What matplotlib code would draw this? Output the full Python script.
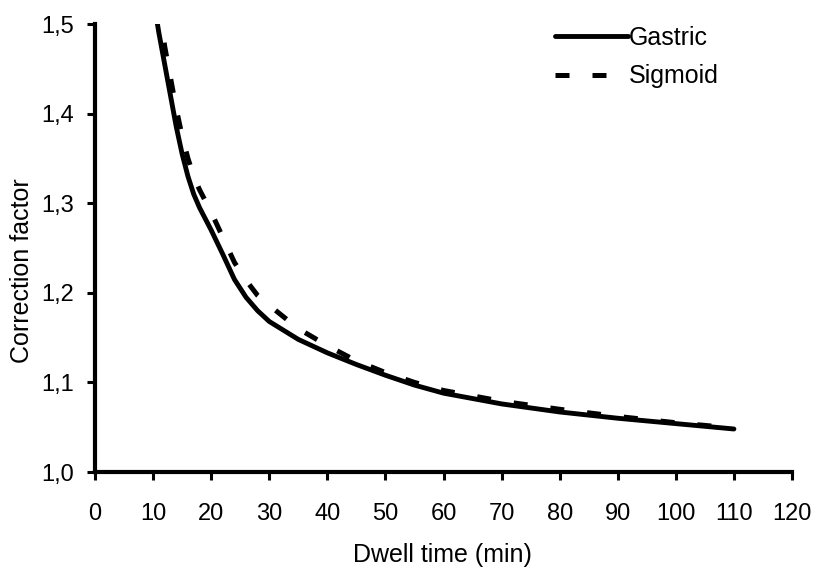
import matplotlib.pyplot as plt

plt.rcParams['font.family'] = ['Liberation Sans', 'DejaVu Sans']

# Gastric correction factor (solid)
gastric_t = [10, 11, 12, 13, 14, 15, 16, 17, 18, 20, 22, 24, 26, 28, 30,
             35, 40, 45, 50, 55, 60, 70, 80, 90, 100, 110]
gastric_cf = [1.53, 1.49, 1.455, 1.42, 1.385, 1.355, 1.33, 1.31, 1.295, 1.27,
              1.243, 1.215, 1.195, 1.18, 1.168, 1.148, 1.133, 1.12, 1.108,
              1.097, 1.088, 1.076, 1.067, 1.06, 1.054, 1.048]

# Sigmoid correction factor (dashed)
sigmoid_t = [11, 12, 13, 14, 15, 16, 17, 18, 20, 22, 24, 26, 28, 30,
             35, 40, 45, 50, 55, 60, 70, 80, 90, 100, 110]
sigmoid_cf = [1.52, 1.475, 1.44, 1.405, 1.375, 1.35, 1.33, 1.315, 1.29, 1.262,
              1.234, 1.214, 1.197, 1.186, 1.16, 1.141, 1.124, 1.111, 1.1,
              1.091, 1.079, 1.07, 1.062, 1.055, 1.049]

x_ticks = list(range(0, 121, 10))
y_ticks = [1.0, 1.1, 1.2, 1.3, 1.4, 1.5]
y_labels = ["1,0", "1,1", "1,2", "1,3", "1,4", "1,5"]

fig = plt.figure(figsize=(8.15, 5.68), dpi=100)
ax = fig.add_axes([95 / 815, 1 - 472 / 568, (792 - 95) / 815, (472 - 24) / 568])

ax.plot(gastric_t, gastric_cf, color="black", lw=3.5, solid_capstyle="round",
        label="Gastric")
ax.plot(sigmoid_t, sigmoid_cf, color="black", lw=3.6, dashes=(2.8, 4.6),
        dash_capstyle="butt", label="Sigmoid")

ax.set_xlim(0, 120)
ax.set_ylim(1.0, 1.5)
ax.set_xticks(x_ticks)
ax.set_yticks(y_ticks)
ax.set_yticklabels(y_labels)

for s in ["top", "right"]:
    ax.spines[s].set_visible(False)
for s in ["left", "bottom"]:
    ax.spines[s].set_linewidth(3)
ax.tick_params(axis="both", direction="out", length=6, width=2.2, labelsize=17)
ax.tick_params(axis="x", pad=16.5)
ax.tick_params(axis="y", pad=9)

fig.text(442 / 815, 1 - 555 / 568, "Dwell time (min)", fontsize=18,
         ha="center", va="center")
fig.text(22 / 815, 1 - 271 / 568, "Correction factor", fontsize=18,
         ha="center", va="center", rotation=90)

ax.legend(loc="upper left", bbox_to_anchor=(555 / 815, 1 - 26 / 568),
          bbox_transform=fig.transFigure, frameon=False, fontsize=18,
          handlelength=2.9, handletextpad=0.05, borderpad=0, borderaxespad=0,
          labelspacing=0.57)

fig.savefig("out.png", dpi=100)
